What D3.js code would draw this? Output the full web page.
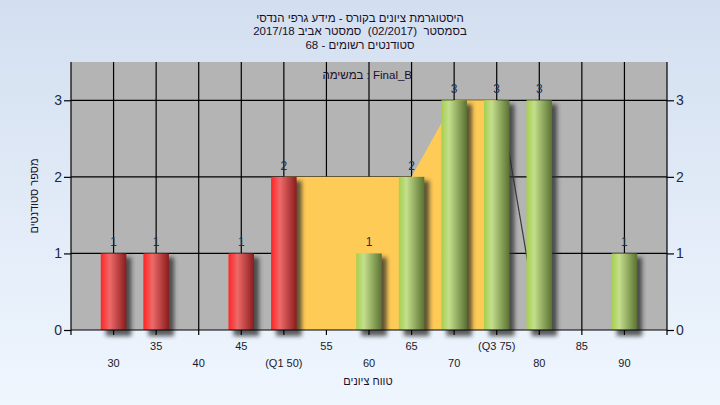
<!DOCTYPE html>
<html><head><meta charset="utf-8">
<script src="https://cdn.jsdelivr.net/npm/d3@7"></script>
<style>html,body{margin:0;padding:0;}svg{display:block;}text{white-space:pre;}</style>
</head><body>
<svg id="c" width="720" height="405"></svg>
<script>
const grades = [30,35,40,45,50,55,60,65,70,75,80,85,90];
const counts = [1,1,0,1,2,0,1,2,3,3,3,0,1];
const passMark = 55;
const tickLabels = ["30","35","40","45","(Q1 50)","55","60","65","70","(Q3 75)","80","85","90"];
const iqrGrades = [50,55,60,65,70,75];
const iqrValues = [2,2,2,2,3,3];
const lineX = [75.4,80];
const lineY = [3,0];
const yTicks = [0,1,2,3];
const titleLines = ["היסטוגרמת ציונים בקורס - מידע גרפי הנדסי","בסמסטר  (02/2017)  סמסטר אביב 2017/18","סטודנטים רשומים - 68"];
const taskLabel = "במשימה : Final_B";
const xTitle = "טווח ציונים";
const yTitle = "מספר סטודנטים";

const svg = d3.select("#c");
const font = "'Liberation Sans', Arial, sans-serif";
const defs = svg.append("defs");
const bg = defs.append("linearGradient").attr("id","bg").attr("x1",0).attr("y1",0).attr("x2",0).attr("y2",1);
bg.append("stop").attr("offset","0%").attr("stop-color","#d3dff0");
bg.append("stop").attr("offset","100%").attr("stop-color","#eff6fe");
const red = defs.append("linearGradient").attr("id","red");
[["0%","#ff2424"],["35%","#ee6a6a"],["100%","#8a1c1c"]].forEach(s=>red.append("stop").attr("offset",s[0]).attr("stop-color",s[1]));
const green = defs.append("linearGradient").attr("id","green");
[["0%","#a6cf4e"],["30%","#c4df8c"],["100%","#5a7232"]].forEach(s=>green.append("stop").attr("offset",s[0]).attr("stop-color",s[1]));
defs.append("filter").attr("id","blur").attr("x","-50%").attr("y","-50%").attr("width","200%").attr("height","200%")
  .append("feGaussianBlur").attr("stdDeviation",2.2);

svg.append("rect").attr("width",720).attr("height",405).attr("fill","url(#bg)");

const L=71,R=667,T=62,B=330;
const x = d3.scaleLinear().domain([25,95]).range([L,R]);
const y = d3.scaleLinear().domain([0,3.5]).range([B,T]);
const bw = (x(30)-x(25))*0.6;

svg.append("rect").attr("x",L).attr("y",T).attr("width",R-L).attr("height",B-T).attr("fill","#b4b4b4");

// grid
svg.append("g").selectAll("line").data(grades).join("line")
  .attr("x1",d=>x(d)).attr("x2",d=>x(d)).attr("y1",T).attr("y2",B)
  .attr("stroke","#000").attr("stroke-width",1.2);
svg.append("g").selectAll("line").data(yTicks.slice(1)).join("line")
  .attr("x1",L).attr("x2",R).attr("y1",d=>y(d)).attr("y2",d=>y(d))
  .attr("stroke","#000").attr("stroke-width",1.2);

// IQR area
const area = d3.area().x(d=>x(d[0])).y0(y(0)).y1(d=>y(d[1]));
svg.append("path").datum(iqrGrades.map((g,i)=>[g,iqrValues[i]])).attr("d",area).attr("fill","#ffcb57");

// line
svg.append("path").datum(lineX.map((g,i)=>[g,lineY[i]]))
  .attr("d",d3.line().x(d=>x(d[0])).y(d=>y(d[1])))
  .attr("stroke","#3a3a3a").attr("stroke-width",1.2).attr("fill","none");

const data = grades.map((g,i)=>({g,v:counts[i]})).filter(d=>d.v>0);
// shadows
svg.append("g").selectAll("rect").data(data).join("rect")
  .attr("x",d=>x(d.g)-bw/2+5).attr("y",d=>y(d.v)+4).attr("width",bw).attr("height",d=>y(0)-y(d.v)+2)
  .attr("fill","#2a2a2a").attr("opacity",0.75).attr("filter","url(#blur)");
// bars
svg.append("g").selectAll("rect").data(data).join("rect")
  .attr("x",d=>x(d.g)-bw/2).attr("y",d=>y(d.v)).attr("width",bw).attr("height",d=>y(0)-y(d.v))
  .attr("fill",d=>d.g<passMark?"url(#red)":"url(#green)");
// value labels
svg.append("g").selectAll("text").data(data).join("text")
  .attr("x",d=>x(d.g)).attr("y",d=>y(d.v)-7).attr("text-anchor","middle")
  .attr("font-family",font).attr("font-size",12).attr("fill","#1e3050").text(d=>d.v);

// axes
const axCol="#000";
svg.append("line").attr("x1",L).attr("x2",R).attr("y1",B).attr("y2",B).attr("stroke",axCol).attr("stroke-width",1.2);
svg.append("line").attr("x1",L).attr("x2",L).attr("y1",T).attr("y2",B+5).attr("stroke",axCol).attr("stroke-width",1.2);
svg.append("line").attr("x1",R).attr("x2",R).attr("y1",T).attr("y2",B+5).attr("stroke",axCol).attr("stroke-width",1.2);
// bottom ticks
svg.append("g").selectAll("line").data(grades).join("line")
  .attr("x1",d=>x(d)).attr("x2",d=>x(d)).attr("y1",B).attr("y2",B+5).attr("stroke",axCol).attr("stroke-width",1.2);
svg.append("g").selectAll("text").data(grades).join("text")
  .attr("x",d=>x(d)).attr("y",(d,i)=> (i%2===1 && i!==4) || i===9 ? 349.5 : 366.5)
  .attr("text-anchor","middle").attr("font-family",font).attr("font-size",11).attr("fill","#1a1a2a")
  .attr("direction","ltr").text((d,i)=>tickLabels[i]);
// left / right axes
const yl = d3.axisLeft(y).tickValues(yTicks).tickSize(7).tickFormat(d3.format("d"));
const yr = d3.axisRight(y).tickValues(yTicks).tickSize(7).tickFormat(d3.format("d"));
const gl = svg.append("g").attr("transform",`translate(${L},0)`).call(yl);
const gr = svg.append("g").attr("transform",`translate(${R},0)`).call(yr);
[gl,gr].forEach(g=>{
  g.select(".domain").remove();
  g.selectAll("line").attr("stroke",axCol).attr("stroke-width",1.2);
  g.selectAll("text").attr("font-family",font).attr("font-size",14).attr("fill","#1c2a48");
});
gl.selectAll("text").attr("x",-9);
gr.selectAll("text").attr("x",9);

// titles
svg.append("g").selectAll("text").data(titleLines).join("text")
  .attr("x",360).attr("y",(d,i)=>21.5+i*13.5).attr("text-anchor","middle")
  .attr("direction","rtl")
  .attr("font-family",font).attr("font-size",11.5).attr("fill","#1a1028").text(d=>d);
svg.append("text").attr("x",412).attr("y",79).attr("text-anchor","end").attr("direction","ltr")
  .attr("font-family",font).attr("font-size",11.5).attr("fill","#1a1028").text(taskLabel);
svg.append("text").attr("x",368).attr("y",385).attr("text-anchor","middle").attr("direction","rtl")
  .attr("font-family",font).attr("font-size",11).attr("fill","#1a1028").text(xTitle);
svg.append("text").attr("transform","translate(38,196) rotate(-90)").attr("text-anchor","middle").attr("direction","rtl")
  .attr("font-family",font).attr("font-size",11).attr("fill","#1a1028").text(yTitle);
</script>
</body></html>
